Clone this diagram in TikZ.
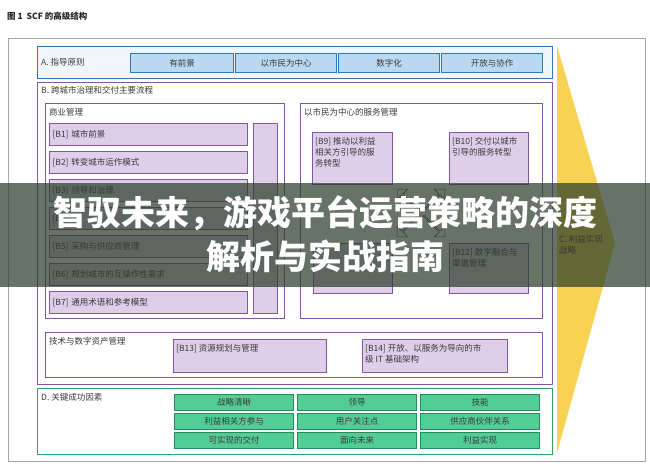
\documentclass[tikz,border=0pt]{standalone}
\usepackage{fontspec}
\setmainfont{Noto Sans CJK SC}
\usepackage{tikz}
\usetikzlibrary{shapes.arrows}
\definecolor{ablue}{RGB}{52,120,178}
\definecolor{afill}{RGB}{240,247,252}
\definecolor{acellfill}{RGB}{186,217,240}
\definecolor{bpurple}{RGB}{130,86,162}
\definecolor{bcellfill}{RGB}{222,206,233}
\definecolor{dgreen}{RGB}{44,164,104}
\definecolor{dcellfill}{RGB}{82,205,150}
\definecolor{cyellow}{RGB}{248,210,82}
\definecolor{banner}{RGB}{44,62,44}
\definecolor{txtgray}{RGB}{58,58,58}

\begin{document}
\begin{tikzpicture}[x=1pt,y=-1pt,
  box/.style={rectangle,anchor=north west,inner sep=0pt,line width=1.1pt},
  grp/.style={box,draw=bpurple,fill=white},
  txt/.style={anchor=north west,inner sep=0pt,align=left,text=txtgray,
    font=\fontsize{8.5}{11}\selectfont},
  acell/.style={box,draw=ablue,fill=acellfill,minimum height=19pt,text=txtgray,
    font=\fontsize{8.5}{11}\selectfont},
  bcell/.style={box,draw=bpurple,fill=bcellfill,text=txtgray,
    font=\fontsize{8.5}{11}\selectfont},
  brow/.style={bcell,minimum width=198pt,minimum height=22pt,inner xsep=3pt,
    text width=192pt,align=left},
  dcell/.style={box,draw=dgreen!85!black,fill=dcellfill,minimum height=15.5pt,
    text=txtgray,font=\fontsize{8.5}{11}\selectfont},
  quad/.style={single arrow,draw=black!70,fill=white,line width=0.6pt,inner sep=0pt,
    minimum height=30pt,minimum width=15pt,single arrow head extend=3pt},
  headline/.style={text=white,font=\fontsize{34}{40}\selectfont\bfseries}
]
\fill[white] (0,0) rectangle (650,471);
\useasboundingbox (0,0) rectangle (650,471);

\node[txt,text=black!85,font=\fontsize{8.5}{10}\selectfont\bfseries] (title) at (7,12)
  {图 1\ \ SCF 的高级结构};
\node[box,draw=black!35,line width=0.8pt,minimum width=637pt,minimum height=423pt]
  (frame) at (8,38) {};

% C: benefit realisation chevron
\fill[cyellow] (557,46) -- (615,243) -- (557,453) -- cycle;
\node[txt,anchor=west] (Clbl) at (559,245) {C. 利益实现\\战略};

% A
\node[box,draw=ablue,fill=afill,minimum width=515pt,minimum height=32pt] (A) at (37,46) {};
\node[txt,anchor=west] (Albl) at (41,62) {A. 指导原则};
\node[acell,minimum width=103pt] (A1) at (130,53) {有前景};
\node[acell,minimum width=101pt] (A2) at (235,53) {以市民为中心};
\node[acell,minimum width=101pt] (A3) at (338,53) {数字化};
\node[acell,minimum width=101pt] (A4) at (441,53) {开放与协作};

% B
\node[grp,minimum width=515pt,minimum height=302pt] (B) at (37,82) {};
\node[txt] (Blbl) at (41,86) {B. 跨城市治理和交付主要流程};
\node[grp,minimum width=239pt,minimum height=215pt] (biz) at (45,103) {};
\node[txt] (bizlbl) at (49,108) {商业管理};
\foreach \i/\t in {1/城市前景,2/转变城市运作模式,3/领导和治理,4/{},
    5/采购与供应商管理,6/规划城市的互操作性需求,7/通用术语和参考模型}
  \node[brow] (B\i) at (49,{123+(\i-1)*28}) {[B\i] \t};
\node[bcell,minimum width=24pt,minimum height=190pt] (B8) at (253,123) {};

\node[grp,minimum width=242pt,minimum height=215pt] (cit) at (300,103) {};
\node[txt] (citlbl) at (304,108) {以市民为中心的服务管理};
\node[bcell,minimum width=80pt,minimum height=52pt] (B9) at (312,132) {};
\node[txt] (B9t) at ([shift={(3pt,-5pt)}]B9.north west) {[B9] 推动以利益\\相关方引导的服\\务转型};
\node[bcell,minimum width=79pt,minimum height=52pt] (B10) at (449,132) {};
\node[txt] (B10t) at ([shift={(3pt,-5pt)}]B10.north west) {[B10] 交付以城市\\引导的服务转型};
\node[bcell,minimum width=79pt,minimum height=50pt] (B11) at (313,243) {};
\node[bcell,minimum width=79pt,minimum height=50pt] (B12) at (449,243) {};
\node[txt] (B12t) at ([shift={(3pt,-5pt)}]B12.north west) {[B12] 数字融合与\\渠道管理};
\node[quad,rotate=135] (qnw) at (408,200) {};
\node[quad,rotate=45] (qne) at (434,200) {};
\node[quad,rotate=225] (qsw) at (408,226) {};
\node[quad,rotate=-45] (qse) at (434,226) {};

\node[grp,minimum width=497pt,minimum height=45pt] (tech) at (45,332) {};
\node[txt] (techlbl) at (49,337) {技术与数字资产管理};
\node[bcell,minimum width=153pt,minimum height=33pt] (B13) at (173,339) {};
\node[txt] (B13t) at ([shift={(3pt,-5pt)}]B13.north west) {[B13] 资源规划与管理};
\node[bcell,minimum width=145pt,minimum height=33pt] (B14) at (362,339) {};
\node[txt] (B14t) at ([shift={(3pt,-5pt)}]B14.north west) {[B14] 开放、以服务为导向的市\\级 IT 基础架构};

% D
\node[box,draw=dgreen,fill=white,minimum width=515pt,minimum height=66pt] (D) at (37,388) {};
\node[txt] (Dlbl) at (41,393) {D. 关键成功因素};
\foreach \t [count=\k from 0] in {战略清晰,领导,技能,利益相关方参与,用户关注点,
    供应商伙伴关系,可实现的交付,面向未来,利益实现}{
  \pgfmathtruncatemacro\c{mod(\k,3)}
  \pgfmathtruncatemacro\r{\k/3}
  \node[dcell,minimum width=119pt] (D\k) at ({174+123*\c},{394+19*\r}) {\t};
}

% banner over the figure
\fill[banner,opacity=0.72] (0,183) rectangle (650,287);
\node[headline] (head1) at (325,213) {智驭未来，游戏平台运营策略的深度};
\node[headline] (head2) at (325,256) {解析与实战指南};
\end{tikzpicture}
\end{document}
